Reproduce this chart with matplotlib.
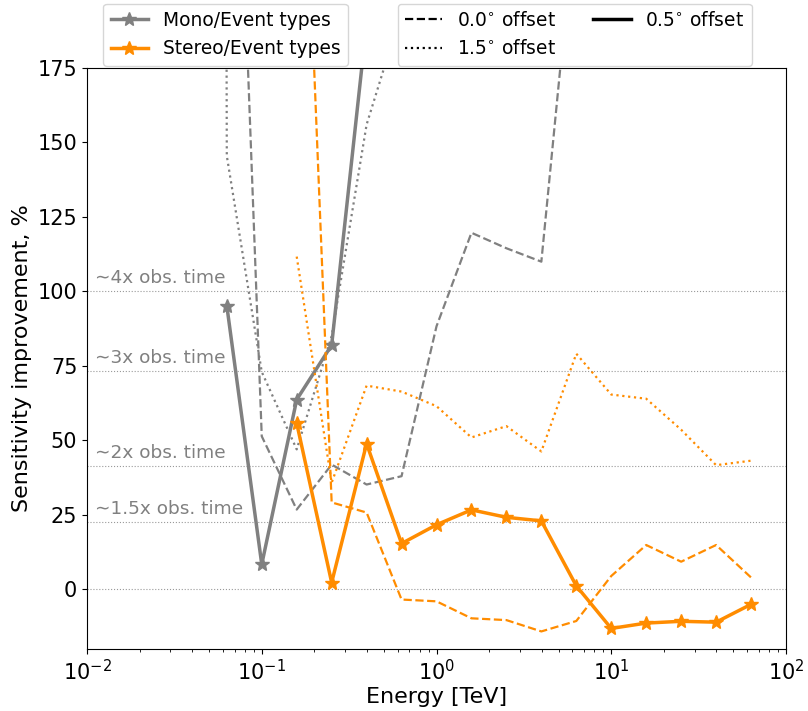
import numpy as np
import matplotlib
matplotlib.use("Agg")
import matplotlib.pyplot as plt
from matplotlib.lines import Line2D
from matplotlib.transforms import blended_transform_factory

nan = np.nan
energy = [0.0631, 0.1, 0.1585, 0.2512, 0.3981, 0.631, 1.0, 1.585, 2.512, 3.981,
          6.31, 10.0, 15.85, 25.12, 39.81, 63.1]

# Mono / event types
mono_00 = [365, 51.4, 26.8, 41.9, 35.2, 38.0, 88.3, 119.7, 114.5, 110.0,
           230, nan, nan, nan, nan, nan]
mono_05 = [95.2, 8.4, 63.7, 82.0, 190, nan, nan, nan, nan, nan,
           nan, nan, nan, nan, nan, nan]
mono_15_energy = [0.0398] + energy
mono_15 = [5000, 145.5, 73.0, 47.0, 85.0, 156.0, 194.0, nan, nan, nan, nan,
           nan, nan, nan, nan, nan, nan]

# Stereo / event types
stereo_00 = [nan, nan, 320, 29.2, 25.8, -3.4, -4.0, -9.7, -10.3, -14.1,
             -10.6, 4.5, 14.9, 9.3, 14.9, 4.0]
stereo_05 = [nan, nan, 55.8, 2.3, 48.9, 15.4, 21.7, 26.7, 24.2, 23.0,
             1.2, -13.1, -11.3, -10.7, -11.0, -5.0]
stereo_15 = [nan, nan, 111.7, 35.8, 68.4, 66.4, 61.5, 51.0, 54.8, 46.3,
             79.1, 65.4, 64.0, 53.6, 41.7, 43.2]

ref_levels = [0.0, 22.5, 41.4, 73.2, 100.0]
ref_labels = [None, "\u223c1.5x obs. time", "\u223c2x obs. time",
              "\u223c3x obs. time", "\u223c4x obs. time"]

grey = "gray"
orange = "darkorange"

fig = plt.figure(figsize=(8.08, 7.11), dpi=100)
ax = fig.add_axes([87/808, 1-649/711, (786-87)/808, (649-68)/711])

for lvl in ref_levels:
    ax.axhline(lvl, color="gray", ls=":", lw=0.8, alpha=0.8)
tr = blended_transform_factory(ax.transAxes, ax.transData)
for lvl, lab in zip(ref_levels, ref_labels):
    if lab:
        ax.text(0.011, lvl + 1.5, lab, transform=tr, color="gray",
                fontsize=13.3, va="bottom", ha="left")

ax.plot(energy, mono_00, color=grey, ls="--", lw=1.6)
ax.plot(mono_15_energy, mono_15, color=grey, ls=":", lw=1.6)
ax.plot(energy, mono_05, color=grey, ls="-", lw=2.5, marker="*", ms=10)

ax.plot(energy, stereo_00, color=orange, ls="--", lw=1.6)
ax.plot(energy, stereo_15, color=orange, ls=":", lw=1.6)
ax.plot(energy, stereo_05, color=orange, ls="-", lw=2.5, marker="*", ms=10)

ax.set_xscale("log")
ax.set_xlim(1e-2, 1e2)
ax.set_ylim(-20, 175)
ax.set_yticks([0, 25, 50, 75, 100, 125, 150, 175])
ax.tick_params(labelsize=15)
ax.set_xlabel("Energy [TeV]", fontsize=16, labelpad=2)
ax.set_ylabel("Sensitivity improvement, %", fontsize=16)

h1 = [Line2D([], [], color=grey, lw=2.5, marker="*", ms=10),
      Line2D([], [], color=orange, lw=2.5, marker="*", ms=10)]
leg1 = ax.legend(h1, ["Mono/Event types", "Stereo/Event types"],
                 loc="upper left", bbox_to_anchor=(0.010, 1.127),
                 fontsize=13.4, frameon=True)
ax.add_artist(leg1)
h2 = [Line2D([], [], color="black", ls="--", lw=1.6),
      Line2D([], [], color="black", ls=":", lw=1.6),
      Line2D([], [], color="black", ls="-", lw=2.5)]
ax.legend(h2, [r"0.0$^{\circ}$ offset", r"1.5$^{\circ}$ offset", r"0.5$^{\circ}$ offset"],
          ncol=2, loc="upper left", bbox_to_anchor=(0.431, 1.127),
          fontsize=13.4, frameon=True)

fig.savefig("out.png", dpi=100)
